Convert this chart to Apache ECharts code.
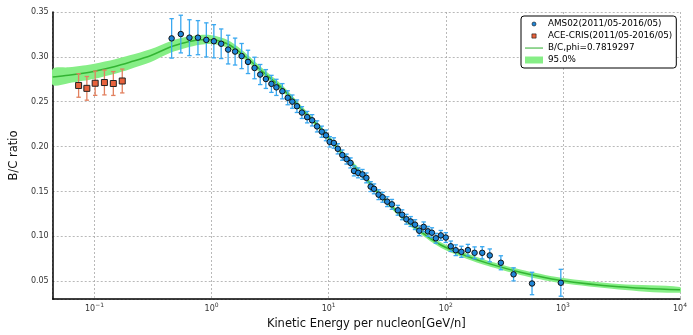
<!DOCTYPE html>
<html>
<head>
<meta charset="utf-8">
<script src="https://cdn.jsdelivr.net/npm/echarts@6/dist/echarts.min.js"></script>
<style>
  html, body { margin: 0; padding: 0; background: #fff; }
  #chart { width: 693px; height: 335px; }
</style>
</head>
<body>
<div id="chart"></div>
<script>
// AMS-02 B/C measurements (kinetic energy per nucleon in GeV/n)
const amsEnergy = [0.456, 0.546, 0.647, 0.765, 0.902, 1.046, 1.208, 1.385, 1.588, 1.806,
  2.047, 2.328, 2.602, 2.908, 3.244, 3.576, 4.020, 4.467, 4.887, 5.356,
  5.905, 6.549, 7.220, 7.960, 8.724, 9.486, 10.20, 11.07, 11.97, 13.07,
  14.21, 15.36, 16.45, 17.85, 19.42, 20.99, 22.83, 24.39, 26.69, 28.86,
  31.62, 34.66, 38.96, 42.38, 46.09, 50.12, 54.61, 59.38, 64.71, 70.39,
  76.08, 82.27, 90.70, 100.0, 110.3, 121.6, 135.9, 154.5, 176.1, 204.7,
  237.4, 295.3, 379.1, 545, 960];
const amsRatio = [0.3206, 0.3254, 0.3214, 0.3214, 0.3189, 0.3174, 0.3146, 0.3081, 0.3059, 0.3009,
  0.2944, 0.2876, 0.2803, 0.2753, 0.2699, 0.2660, 0.2617, 0.2544, 0.2501, 0.2450,
  0.2379, 0.2328, 0.2293, 0.2225, 0.2166, 0.2125, 0.2053, 0.2040, 0.1975, 0.1905,
  0.1861, 0.1818, 0.1729, 0.1707, 0.1690, 0.1651, 0.1554, 0.1529, 0.1464, 0.1435,
  0.1386, 0.1356, 0.1290, 0.1240, 0.1190, 0.1165, 0.1130, 0.1062, 0.1105, 0.1055,
  0.1040, 0.0978, 0.1010, 0.0986, 0.0889, 0.0845, 0.0827, 0.0846, 0.0816, 0.0816,
  0.0787, 0.0705, 0.0576, 0.0474, 0.0482];
const amsError = [0.0220, 0.0210, 0.0200, 0.0190, 0.0190, 0.0185, 0.0165, 0.0160, 0.0150, 0.0140,
  0.0130, 0.0120, 0.0112, 0.0105, 0.0095, 0.0090, 0.0085, 0.0078, 0.0074, 0.0070,
  0.0066, 0.0064, 0.0063, 0.0062, 0.0062, 0.0060, 0.0058, 0.0058, 0.0057, 0.0057,
  0.0056, 0.0056, 0.0056, 0.0055, 0.0055, 0.0055, 0.0055, 0.0055, 0.0055, 0.0055,
  0.0055, 0.0055, 0.0055, 0.0055, 0.0055, 0.0055, 0.0055, 0.0055, 0.0055, 0.0055,
  0.0055, 0.0055, 0.0055, 0.0055, 0.0058, 0.0060, 0.0062, 0.0064, 0.0066, 0.0068,
  0.0072, 0.0078, 0.0073, 0.0125, 0.0150];

// ACE-CRIS B/C measurements
const aceEnergy = [0.0732, 0.0861, 0.1014, 0.1216, 0.1449, 0.1727];
const aceRatio = [0.2681, 0.2649, 0.2706, 0.2714, 0.2703, 0.2731];
const aceError = [0.0131, 0.0132, 0.0135, 0.0138, 0.0133, 0.0133];

// Propagation model with modulation potential phi, and its 95% band
const modelEnergy = [0.044, 0.06, 0.08, 0.1, 0.15, 0.2, 0.3, 0.45, 0.6, 0.8,
  1.0, 1.3, 1.6, 2.0, 2.7, 4.0, 5.9, 8.7, 12.9, 19,
  28, 41.5, 61.5, 90.7, 150, 226, 433, 944, 3000, 10000];
const modelRatio = [0.2775, 0.2795, 0.2818, 0.2840, 0.2893, 0.2940, 0.3012, 0.3113, 0.3160, 0.3190,
  0.3192, 0.3157, 0.3090, 0.2990, 0.2839, 0.2652, 0.2418, 0.2191, 0.1932, 0.1699,
  0.1453, 0.1232, 0.1049, 0.0903, 0.0780, 0.0701, 0.0600, 0.0511, 0.0438, 0.0403];
const modelLow = [0.2685, 0.2707, 0.2733, 0.2757, 0.2813, 0.2863, 0.2940, 0.3048, 0.3100, 0.3135,
  0.3142, 0.3112, 0.3048, 0.2950, 0.2803, 0.2618, 0.2386, 0.2160, 0.1902, 0.1669,
  0.1423, 0.1202, 0.1019, 0.0873, 0.0750, 0.0671, 0.0570, 0.0481, 0.0407, 0.0371];
const modelHigh = [0.2865, 0.2883, 0.2903, 0.2923, 0.2973, 0.3017, 0.3084, 0.3178, 0.3220, 0.3245,
  0.3242, 0.3202, 0.3132, 0.3030, 0.2875, 0.2686, 0.2450, 0.2222, 0.1962, 0.1729,
  0.1483, 0.1262, 0.1079, 0.0933, 0.0810, 0.0731, 0.0630, 0.0541, 0.0469, 0.0435];

const FONT = 'DejaVu Sans';
const AMS_FILL = '#1f86d8';
const AMS_BAR = '#3aa8f0';
const ACE_FILL = '#e8623c';
const ACE_BAR = '#e2805f';
const LINE_GREEN = '#33b533';
const BAND_GREEN = '#86ee86';

// Vertical error bar with caps, positioned through the axes
function errorBars(color, cap) {
  return function (params, api) {
    const x = api.value(0), y = api.value(1), e = api.value(2);
    const top = api.coord([x, y + e]);
    const bot = api.coord([x, y - e]);
    const st = { stroke: color, lineWidth: 1.3 };
    return {
      type: 'group',
      children: [
        { type: 'line', shape: { x1: top[0], y1: top[1], x2: bot[0], y2: bot[1] }, style: st },
        { type: 'line', shape: { x1: top[0] - cap, y1: top[1], x2: top[0] + cap, y2: top[1] }, style: st },
        { type: 'line', shape: { x1: bot[0] - cap, y1: bot[1], x2: bot[0] + cap, y2: bot[1] }, style: st }
      ]
    };
  };
}

// Whole confidence band as one smoothed polygon (upper edge out, lower edge back)
function bandPolygon(params, api) {
  if (params.dataIndexInside !== 0) return null;
  const n = params.dataInsideLength;
  const upper = [], lower = [];
  for (let i = 0; i < n; i++) {
    const e = api.value(0, i);
    upper.push(api.coord([e, api.value(2, i)]));
    lower.push(api.coord([e, api.value(1, i)]));
  }
  const pts = upper.concat(lower.reverse());
  return {
    type: 'polygon',
    shape: { points: pts, smooth: 0.3 },
    style: { fill: BAND_GREEN, stroke: null },
    silent: true
  };
}

function superscript(v) {
  const p = Math.round(Math.log10(v));
  const s = p < 0 ? '\u2212' + (-p) : String(p);
  return '{b|10}{e|' + s + '}';
}

const chart = echarts.init(document.getElementById('chart'), null, { renderer: 'canvas' });

chart.setOption({
  animation: false,
  backgroundColor: '#fff',
  textStyle: { fontFamily: FONT },
  grid: { left: 50, right: 13, top: 12, bottom: 27 },
  legend: {
    orient: 'vertical',
    left: 521,
    top: 16,
    padding: [2, 4],
    itemGap: 0,
    itemWidth: 18,
    itemHeight: 7,
    backgroundColor: '#fff',
    borderColor: '#000',
    borderWidth: 1,
    borderRadius: 3,
    selectedMode: false,
    symbolKeepAspect: true,
    textStyle: { fontFamily: FONT, fontSize: 8.8, color: '#000', lineHeight: 12 },
    data: [
      {
        name: 'AMS02(2011/05-2016/05)',
        icon: 'path://M0,0M8,8M1.7,4a2.3,2.3 0 1,0 4.6,0a2.3,2.3 0 1,0 -4.6,0z',
        itemStyle: { color: AMS_FILL, borderColor: '#111', borderWidth: 0.6 }
      },
      {
        name: 'ACE-CRIS(2011/05-2016/05)',
        icon: 'path://M0,0M8,8M1.6,1.6h4.8v4.8h-4.8z',
        itemStyle: { color: ACE_FILL, borderColor: '#111', borderWidth: 0.6 }
      },
      {
        name: 'B/C,phi=0.7819297',
        icon: 'path://M0,0M18,7M0,2.9h18v1.3h-18z',
        itemStyle: { color: '#5cc05c', borderWidth: 0 }
      },
      { name: '95.0%', icon: 'rect', itemStyle: { color: BAND_GREEN, borderWidth: 0 } }
    ]
  },
  xAxis: {
    type: 'log',
    logBase: 10,
    min: 0.044,
    max: 10000,
    name: 'Kinetic Energy per nucleon[GeV/n]',
    nameLocation: 'middle',
    nameGap: 11,
    nameTextStyle: { fontFamily: FONT, fontSize: 11.5, color: '#111' },
    axisLine: { show: true, onZero: false, lineStyle: { color: '#000', width: 1.5 } },
    axisTick: { show: false },
    splitLine: { show: true, lineStyle: { color: '#a8a8a8', width: 0.8, type: [2, 2] } },
    minorTick: { show: false },
    axisLabel: {
      showMinLabel: false,
      margin: 3,
      formatter: superscript,
      rich: {
        b: { fontFamily: FONT, fontSize: 8, color: '#333', verticalAlign: 'bottom', lineHeight: 11 },
        e: { fontFamily: FONT, fontSize: 6, color: '#333', verticalAlign: 'top', lineHeight: 11 }
      }
    }
  },
  yAxis: {
    type: 'value',
    min: 0.03,
    max: 0.35,
    splitNumber: 6,
    name: 'B/C ratio',
    nameLocation: 'middle',
    nameGap: 24,
    nameRotate: 90,
    nameTextStyle: { fontFamily: FONT, fontSize: 11.5, color: '#111' },
    axisLine: { show: true, lineStyle: { color: '#000', width: 1.5 } },
    axisTick: { show: false },
    splitLine: { show: true, lineStyle: { color: '#a8a8a8', width: 0.8, type: [2, 2] } },
    axisLabel: {
      showMinLabel: false,
      margin: 4,
      fontFamily: FONT,
      fontSize: 8,
      color: '#333',
      formatter: function (v) { return v.toFixed(2); }
    }
  },
  series: [
    {
      name: '95.0%',
      type: 'custom',
      clip: true,
      silent: true,
      color: BAND_GREEN,
      renderItem: bandPolygon,
      encode: { x: 0, y: [1, 2] },
      data: modelEnergy.map((e, i) => [e, modelLow[i], modelHigh[i]]),
      z: 1
    },
    {
      name: 'B/C,phi=0.7819297',
      type: 'line',
      smooth: 0.3,
      symbol: 'none',
      showSymbol: false,
      color: LINE_GREEN,
      lineStyle: { color: LINE_GREEN, width: 1.5 },
      data: modelEnergy.map((e, i) => [e, modelRatio[i]]),
      z: 3
    },
    {
      name: 'ACE-CRIS errors',
      type: 'custom',
      renderItem: errorBars(ACE_BAR, 2.2),
      encode: { x: 0, y: 1 },
      data: aceEnergy.map((e, i) => [e, aceRatio[i], aceError[i]]),
      z: 4
    },
    {
      name: 'ACE-CRIS(2011/05-2016/05)',
      type: 'scatter',
      symbol: 'rect',
      symbolSize: 6,
      itemStyle: { color: ACE_FILL, borderColor: '#222', borderWidth: 1, opacity: 1 },
      data: aceEnergy.map((e, i) => [e, aceRatio[i]]),
      z: 5
    },
    {
      name: 'AMS02 errors',
      type: 'custom',
      renderItem: errorBars(AMS_BAR, 2.2),
      encode: { x: 0, y: 1 },
      data: amsEnergy.map((e, i) => [e, amsRatio[i], amsError[i]]),
      z: 4
    },
    {
      name: 'AMS02(2011/05-2016/05)',
      type: 'scatter',
      symbol: 'circle',
      symbolSize: 5.5,
      itemStyle: { color: AMS_FILL, borderColor: '#111', borderWidth: 1, opacity: 1 },
      data: amsEnergy.map((e, i) => [e, amsRatio[i]]),
      z: 5
    }
  ]
});
</script>
</body>
</html>
